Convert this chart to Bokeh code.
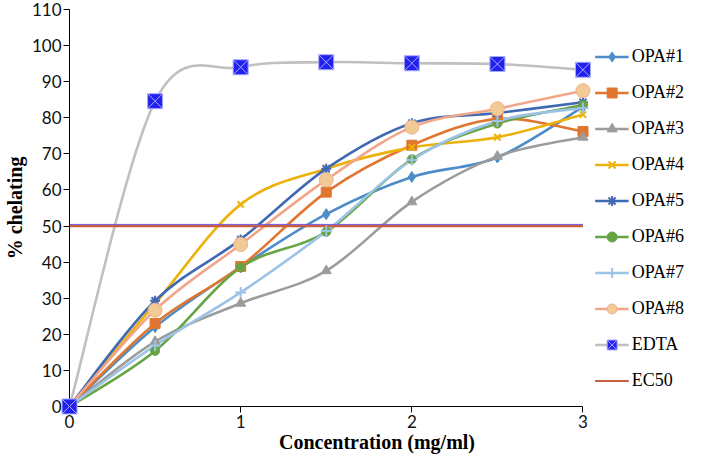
import numpy as np
from bokeh.plotting import figure
from bokeh.models import Legend, LegendItem, FixedTicker, ColumnDataSource, Range1d
from bokeh.transform import dodge
from bokeh.embed import file_html
from bokeh.resources import INLINE

# ---- data ----
conc = [0, 0.5, 1, 1.5, 2, 2.5, 3]
series_names = ["OPA#1", "OPA#2", "OPA#3", "OPA#4", "OPA#5", "OPA#6", "OPA#7", "OPA#8", "EDTA"]
opa1 = [0, 22.0, 38.6, 53.3, 63.6, 69.0, 83.0]
opa2 = [0, 23.0, 38.8, 59.4, 72.4, 79.7, 76.2]
opa3 = [0, 18.0, 28.6, 37.6, 56.7, 69.3, 74.6]
opa4 = [0, 28.5, 56.0, 65.9, 71.8, 74.6, 80.9]
opa5 = [0, 29.3, 46.3, 65.9, 78.5, 81.3, 84.3]
opa6 = [0, 15.4, 38.5, 48.4, 68.5, 78.4, 83.5]
opa7 = [0, 16.9, 31.6, 48.6, 68.3, 79.1, 82.7]
opa8 = [0, 26.7, 44.9, 62.8, 77.4, 82.5, 87.5]
edta = [0, 84.6, 94.0, 95.4, 95.1, 94.9, 93.3]
ec50_x = [0, 3]
ec50_y = [50, 50]
y_ticks = list(range(0, 111, 10))
x_ticks = [0, 1, 2, 3]
x_min, x_max = 0, 3
y_min, y_max = 0, 110

values = [opa1, opa2, opa3, opa4, opa5, opa6, opa7, opa8, edta]

styles = [
    dict(line="#4C8DC9", marker="diamond", size=11, fill="#4C8DC9", mline="#4C8DC9"),
    dict(line="#E0762F", marker="square", size=10, fill="#E0762F", mline="#E0762F"),
    dict(line="#9C9C9C", marker="triangle", size=10, fill="#9C9C9C", mline="#9C9C9C"),
    dict(line="#EDB20A", marker="x", size=9, fill="#EDB20A", mline="#EDB20A"),
    dict(line="#4069B3", marker="asterisk", size=10, fill="#4069B3", mline="#4069B3"),
    dict(line="#66A444", marker="circle", size=9, fill="#66A444", mline="#66A444"),
    dict(line="#9CC2E5", marker="cross", size=11, fill="#9CC2E5", mline="#9CC2E5"),
    dict(line="#F2A689", marker="circle", size=14, fill="#F2CA96", mline="#F2B08E"),
    dict(line="#C0C0C0", marker="square_x", size=15, fill="#2222EE", mline="#A8A8FF"),
]


def bezier_controls(xs, ys):
    xs = np.asarray(xs, float)
    ys = np.asarray(ys, float)
    n = len(xs)
    x0, y0, x1, y1, cx0, cy0, cx1, cy1 = ([] for _ in range(8))
    for i in range(n - 1):
        a = i - 1 if i > 0 else i
        d = i + 2 if i + 2 < n else i + 1
        x0.append(xs[i]); y0.append(ys[i])
        x1.append(xs[i + 1]); y1.append(ys[i + 1])
        cx0.append(xs[i] + (xs[i + 1] - xs[a]) / 6.0)
        cy0.append(ys[i] + (ys[i + 1] - ys[a]) / 6.0)
        cx1.append(xs[i + 1] - (xs[d] - xs[i]) / 6.0)
        cy1.append(ys[i + 1] - (ys[d] - ys[i]) / 6.0)
    return dict(x0=x0, y0=y0, x1=x1, y1=y1, cx0=cx0, cy0=cy0, cx1=cx1, cy1=cy1)


W, H = 684, 455
LEFT = 60                   # expected width of the left axis panel
FRAME_W = W - LEFT          # frame runs to the right edge; legend sits inside it
PLOT_W = 521                # pixels used by the data axis (0..3)
x_end = x_max * FRAME_W / PLOT_W

p = figure(width=W, height=H, x_range=Range1d(x_min, x_end), y_range=Range1d(y_min, y_max),
           output_backend="svg", toolbar_location=None,
           min_border_left=50, min_border_right=0, min_border_top=9, min_border_bottom=30)
p.outline_line_color = None
p.grid.visible = False
p.background_fill_color = "white"

SERIF = "Liberation Serif"
SANS = "Lato"

for ax in (p.xaxis[0], p.yaxis[0]):
    ax.axis_line_color = "#000000"
    ax.axis_line_width = 1
    ax.major_tick_line_color = "#000000"
    ax.major_tick_in = 0
    ax.major_tick_out = 6
    ax.minor_tick_line_color = None
    ax.major_label_text_font = SANS
    ax.major_label_text_font_size = "17px"
    ax.major_label_text_color = "#111111"
    ax.axis_label_text_font = SERIF
    ax.axis_label_text_font_style = "bold"
    ax.axis_label_text_font_size = "20px"
    ax.axis_label_text_color = "#000000"

p.xaxis.bounds = (x_min, x_max)
p.xaxis.ticker = FixedTicker(ticks=x_ticks)
p.yaxis.ticker = FixedTicker(ticks=y_ticks)
p.xaxis.axis_label = "Concentration (mg/ml)"
p.yaxis.axis_label = "% chelating"
p.xaxis.major_label_standoff = 2
p.yaxis.major_label_standoff = 2
p.xaxis.axis_label_standoff = 0
p.yaxis.axis_label_standoff = 3

items = []
pending = []
for name, vals, st in zip(series_names, values, styles):
    src = ColumnDataSource(bezier_controls(conc, vals))
    br = p.bezier(x0="x0", y0="y0", x1="x1", y1="y1", cx0="cx0", cy0="cy0",
                  cx1="cx1", cy1="cy1", source=src, line_color=st["line"], line_width=2.6)
    pending.append((name, br, vals, st))

ec_src = ColumnDataSource(dict(x=ec50_x, y=ec50_y))
ec_a = p.line(x="x", y="y", source=ec_src, line_color="#C8603E", line_width=2.2)
ec_b = p.line(x="x", y=dodge("y", 0.45, range=p.y_range), source=ec_src,
              line_color="#6F55E8", line_width=1)

for name, br, vals, st in pending:
    lw = 2 if st["marker"] in ("x", "asterisk", "cross") else 1
    sr = p.scatter(conc, vals, marker=st["marker"], size=st["size"],
                   fill_color=st["fill"], line_color=st["mline"], line_width=lw,
                   level="overlay")
    items.append(LegendItem(label=name, renderers=[br, sr]))
items.append(LegendItem(label="EC50", renderers=[ec_b, ec_a]))

legend = Legend(items=items, location="top_right", padding=0, margin=0,
                title=" ", title_text_font_size="17px", title_standoff=15,
                glyph_width=34, glyph_height=25, label_height=25, spacing=11,
                label_standoff=3, label_text_font=SERIF, label_text_font_size="18px",
                label_text_color="#000000", border_line_color=None,
                background_fill_alpha=0)
p.add_layout(legend)

open("out.html", "w").write(file_html(p, INLINE))
